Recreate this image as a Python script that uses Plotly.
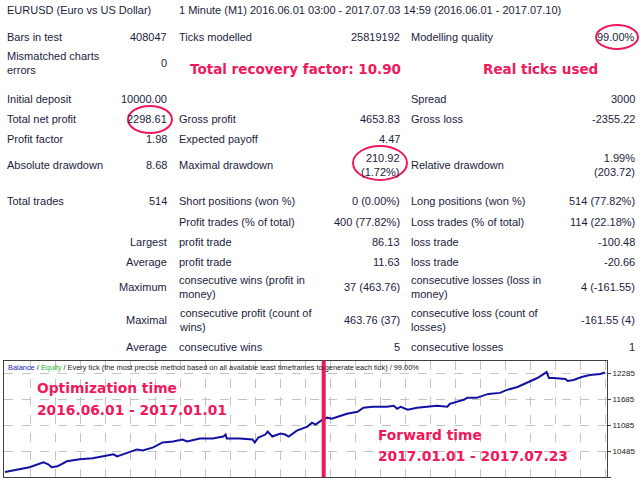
import plotly.graph_objects as go

W, H = 640, 480

# balance curve: trade number -> balance
trade_no = [0, 13, 21, 33, 37, 40, 45, 53, 64, 75, 84, 93, 96, 105, 113, 118, 127,
            135, 144, 152, 156, 167, 178, 187, 189, 190, 201, 212, 214, 217, 223,
            225, 229, 236, 240, 243, 250, 259, 263, 266, 272, 276, 280, 285, 293,
            302, 307, 315, 327, 333, 336, 339, 345, 353, 367, 370, 379, 381, 393,
            396, 404, 414, 424, 430, 439, 447, 456, 464, 466, 470, 480, 482, 487,
            494, 501, 510, 514]
balance = [10000, 10064, 10110, 10224, 10178, 10110, 10132, 10247, 10293, 10316,
           10361, 10407, 10361, 10453, 10522, 10499, 10568, 10682, 10705, 10751,
           10705, 10774, 10774, 10819, 10865, 10774, 10774, 10751, 10682, 10797,
           10865, 10934, 10819, 10888, 10865, 10819, 10957, 11048, 11140, 11094,
           11209, 11255, 11232, 11277, 11346, 11392, 11484, 11507, 11507, 11529,
           11461, 11507, 11438, 11484, 11507, 11529, 11507, 11575, 11667, 11712,
           11712, 11804, 11827, 11896, 11964, 12056, 12170, 12308, 12170, 12170,
           12148, 12102, 12125, 12193, 12239, 12262, 12299]
y_ticks = [9885, 10485, 11085, 11685, 12285]
forward_start = 273  # trade where the forward period begins

symbol = "EURUSD (Euro vs US Dollar)"
period = "1 Minute (M1) 2016.06.01 03:00 - 2017.07.03 14:59 (2016.06.01 - 2017.07.10)"

# report table: label/value for three column pairs
col1_label = ["Bars in test", "Mismatched charts<br>errors", "Initial deposit", "Total net profit",
              "Profit factor", "Absolute drawdown", "Total trades", "", "", "", "", "", ""]
col1_value = ["408047", "0", "10000.00", "2298.61", "1.98", "8.68", "514", "",
              "Largest", "Average", "Maximum", "Maximal", "Average"]
col2_label = ["Ticks modelled", "", "", "Gross profit", "Expected payoff", "Maximal drawdown",
              "Short positions (won %)", "Profit trades (% of total)", "profit trade", "profit trade",
              "consecutive wins (profit in<br>money)", "consecutive profit (count of<br>wins)",
              "consecutive wins"]
col2_value = ["25819192", "", "", "4653.83", "4.47", "210.92<br>(1.72%)", "0 (0.00%)",
              "400 (77.82%)", "86.13", "11.63", "37 (463.76)", "463.76 (37)", "5"]
col3_label = ["Modelling quality", "", "Spread", "Gross loss", "", "Relative drawdown",
              "Long positions (won %)", "Loss trades (% of total)", "loss trade", "loss trade",
              "consecutive losses (loss in<br>money)", "consecutive loss (count of<br>losses)",
              "consecutive losses"]
col3_value = ["99.00%", "", "3000", "-2355.22", "", "1.99%<br>(203.72)", "514 (77.82%)",
              "114 (22.18%)", "-100.48", "-20.66", "4 (-161.55)", "-161.55 (4)", "1"]

row_y = [37, 63, 99, 119, 139, 165, 201, 222, 242, 262, 287, 320, 347]

TXT = "#1c1c3c"
RED = "#f0185a"
FONT = "Liberation Sans"
BOLD = "DejaVu Sans"

fig = go.Figure()
fig.add_trace(go.Scatter(x=trade_no, y=balance, mode="lines",
                         line=dict(color="#1212a2", width=2), hoverinfo="skip"))

def px(x):
    return x / W

def py(y):
    return 1 - y / H

ann = []
def text(t, x, y, anchor="left", size=11, color=TXT, bold=False, family=FONT):
    if bold:
        t = "<b>" + t + "</b>"
    ann.append(dict(text=t, x=px(x), y=py(y), xref="paper", yref="paper",
                    xanchor=anchor, yanchor="middle", align=anchor, showarrow=False,
                    font=dict(family=family, size=size, color=color)))

text(symbol, 5, 10)
text(period, 177, 10)
for i, y in enumerate(row_y):
    text(col1_label[i], 5, y)
    text(col1_value[i], 169, y, "right")
    text(col2_label[i], 177, y)
    text(col2_value[i], 402, y, "right")
    text(col3_label[i], 409, y)
    text(col3_value[i], 637, y, "right")

text("Total recovery factor: 10.90", 188, 69, size=13.5, color=RED, bold=True, family=BOLD)
text("Real ticks used", 481, 69, size=13.5, color=RED, bold=True, family=BOLD)

# chart header and notes
text('<span style="color:#2020c0">Balance</span> / <span style="color:#22bb22">Equity</span>'
     ' / Every tick (the most precise method based on all available least timeframes to generate each tick) / 99.00%',
     6, 367, size=7.4, color="#202020")
text("Optimization time", 35, 388, size=13.8, color=RED, bold=True, family=BOLD)
text("2016.06.01 - 2017.01.01", 35, 410, size=13.8, color=RED, bold=True, family=BOLD)
text("Forward time", 376, 435, size=13.8, color=RED, bold=True, family=BOLD)
text("2017.01.01 - 2017.07.23", 376, 456, size=13.8, color=RED, bold=True, family=BOLD)

shapes = [
    # forward split
    dict(type="line", xref="x", yref="y domain", x0=forward_start, x1=forward_start,
         y0=0, y1=1, line=dict(color=RED, width=4)),
    # highlight ellipses
    dict(type="circle", xref="paper", yref="paper", x0=px(128), x1=px(172),
         y0=py(133), y1=py(106), line=dict(color=RED, width=2)),
    dict(type="circle", xref="paper", yref="paper", x0=px(596), x1=px(638),
         y0=py(49), y1=py(25), line=dict(color=RED, width=2)),
    dict(type="circle", xref="paper", yref="paper", x0=px(353), x1=px(407),
         y0=py(180), y1=py(146), line=dict(color=RED, width=2)),
]

fig.update_layout(
    width=W, height=H, margin=dict(l=0, r=0, t=0, b=0),
    paper_bgcolor="white", plot_bgcolor="white", showlegend=False,
    annotations=ann, shapes=shapes,
    xaxis=dict(domain=[px(4), px(607)], range=[-0.86, 515.7], showticklabels=False,
               ticks="", tick0=21.42, dtick=21.42, showgrid=True, gridcolor="#c4c4c4",
               griddash="dash", gridwidth=1, zeroline=False, showline=True,
               linecolor="#404040", linewidth=1, mirror=True),
    yaxis=dict(domain=[1 - 477 / H, 1 - 360.7 / H], range=[9885, 12570], side="right",
               tickvals=y_ticks, tickformat="d", ticks="outside", ticklen=3, tickcolor="#404040",
               tickfont=dict(family=FONT, size=8, color="#202020"),
               showgrid=True, gridcolor="#c4c4c4", griddash="dash", gridwidth=1,
               zeroline=False, showline=True, linecolor="#404040", linewidth=1, mirror=True),
)

# page body has a default margin; drop it so the figure sits at the window's corner
fig.write_html("out.html", config={"displayModeBar": False},
               post_script="document.body.style.margin='0';document.body.style.overflow='hidden';")
